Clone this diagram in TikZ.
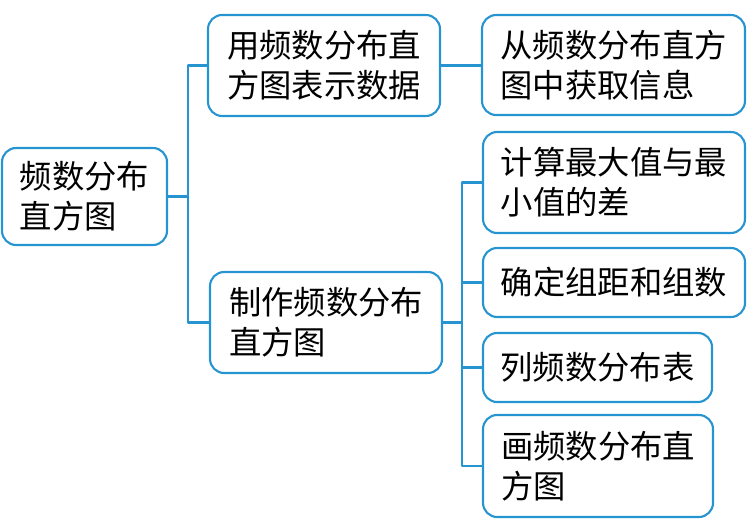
\documentclass[tikz,border=0pt]{standalone}
\usepackage{fontspec}
\newfontfamily\cjk{Noto Sans CJK SC}
\definecolor{kblue}{RGB}{38,148,208}
\tikzset{
	khung/.style={draw=kblue, line width=1.2pt, rounded corners=8pt, align=left, inner sep=0pt},
	noi/.style={draw=kblue, line width=1.2pt}
}
\begin{document}
\begin{tikzpicture}[x=0.02cm, y=-0.02cm, font=\cjk\fontsize{18.4}{22.7}\selectfont, line join=round, line cap=round]
		\def\xtrai{188} \def\xphai{462} % cột nối
		\useasboundingbox (0,0) rectangle (749,523);
		\node[khung, minimum width=3.3cm, minimum height=1.94cm] (goc) at (84.5,196.5) {频数分布\\直方图};
		\node[khung, minimum width=4.64cm, minimum height=2.02cm] (bieudien) at (324,65.5) {用频数分布直\\方图表示数据};
		\node[khung, minimum width=5.26cm, minimum height=2cm] (laytin) at (613.5,65) {从频数分布直方\\图中获取信息};
		\node[khung, minimum width=4.64cm, minimum height=2.02cm] (chetao) at (326,322.5) {制作频数分布\\直方图};
		\node[khung, minimum width=5.24cm, minimum height=2.02cm] (b1) at (614,182.5) {计算最大值与最\\小值的差};
		\node[khung, minimum width=5.24cm, minimum height=1.38cm] (b2) at (614,282.5) {确定组距和组数};
		\node[khung, minimum width=4.58cm, minimum height=1.38cm] (b3) at (597.5,367.5) {列频数分布表};
		\node[khung, minimum width=4.6cm, minimum height=2.04cm] (b4) at (598,466) {画频数分布直\\方图};
		% nhánh trái
		\coordinate (ct) at (\xtrai,196.5);
		\draw[noi] (goc.east) -- (ct);
		\draw[noi] (bieudien.west) -| (ct) |- (chetao.west);
		\draw[noi] (bieudien.east) -- (bieudien.east -| laytin.west);
		% nhánh phải
		\coordinate (cp) at (\xphai,322.5);
		\draw[noi] (chetao.east) -- (cp);
		\draw[noi] (b1.west) -| (cp) |- (b4.west);
		\foreach \b in {b2,b3}
			\draw[noi] (\b.west) -- (\b.west -| cp);
\end{tikzpicture}
\end{document}
